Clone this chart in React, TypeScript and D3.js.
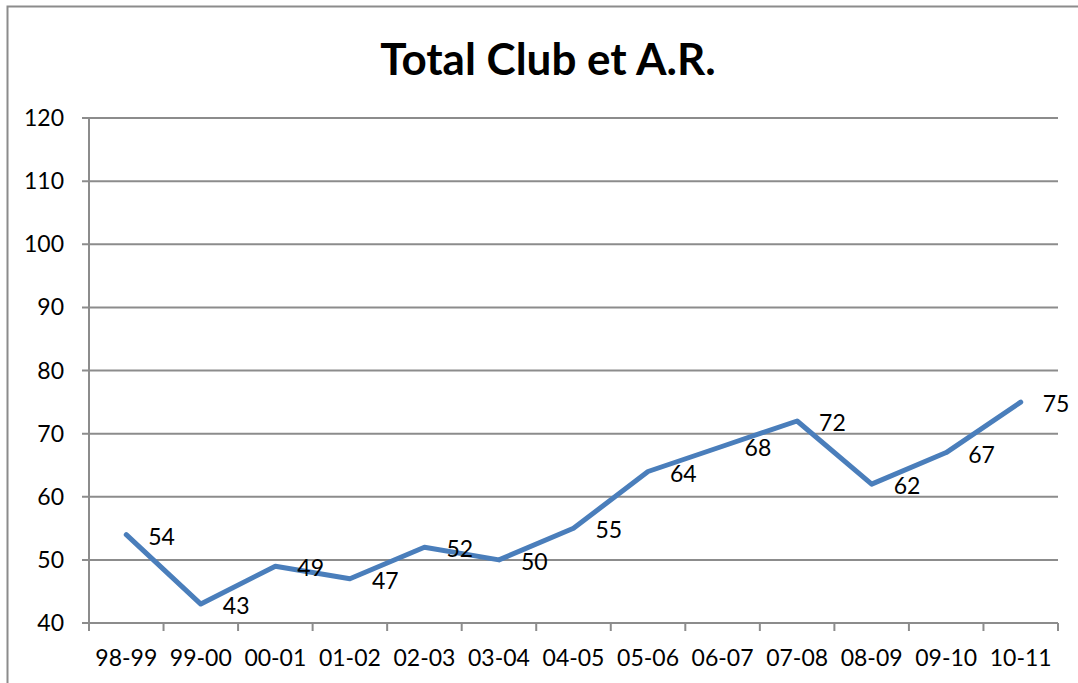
import { useEffect, useRef } from "react";
import * as d3 from "d3";

const SEASONS = ["98-99", "99-00", "00-01", "01-02", "02-03", "03-04", "04-05", "05-06", "06-07", "07-08", "08-09", "09-10", "10-11"];
const TOTALS = [54, 43, 49, 47, 52, 50, 55, 64, 68, 72, 62, 67, 75];
const Y_TICKS = [40, 50, 60, 70, 80, 90, 100, 110, 120];

const WIDTH = 1078;
const HEIGHT = 683;
const FONT = "Lato, 'Open Sans', sans-serif";

export default function App() {
  const svgRef = useRef<SVGSVGElement>(null);

  useEffect(() => {
    const svgEl = svgRef.current;
    if (!svgEl) return;
    const svg = d3.select(svgEl);
    svg.selectAll("*").remove();

    const left = 89;
    const right = 1058;
    const top = 118;
    const bottom = 623;

    const x = d3.scaleBand<string>().domain(SEASONS).range([left, right]);
    const y = d3.scaleLinear().domain([40, 120]).range([bottom, top]);

    // chart frame
    svg
      .append("rect")
      .attr("x", 7.5)
      .attr("y", 6.5)
      .attr("width", WIDTH + 20)
      .attr("height", HEIGHT + 20)
      .attr("fill", "white")
      .attr("stroke", "#8c8c8c")
      .attr("stroke-width", 2);

    svg
      .append("text")
      .attr("x", 548)
      .attr("y", 75)
      .attr("text-anchor", "middle")
      .attr("font-family", FONT)
      .attr("font-weight", 700)
      .attr("font-size", 44)
      .text("Total Club et A.R.");

    // gridlines + y ticks
    svg
      .append("g")
      .selectAll("line")
      .data(Y_TICKS)
      .join("line")
      .attr("x1", left - 7)
      .attr("x2", right)
      .attr("y1", (d) => y(d))
      .attr("y2", (d) => y(d))
      .attr("stroke", "#8c8c8c")
      .attr("stroke-width", 2);

    svg
      .append("g")
      .selectAll("text")
      .data(Y_TICKS)
      .join("text")
      .attr("x", 64)
      .attr("y", (d) => y(d))
      .attr("dy", "0.35em")
      .attr("text-anchor", "end")
      .attr("font-family", FONT)
      .attr("font-size", 23)
      .text((d) => d);

    // y axis line
    svg
      .append("line")
      .attr("x1", left)
      .attr("x2", left)
      .attr("y1", top)
      .attr("y2", bottom + 8)
      .attr("stroke", "#8c8c8c")
      .attr("stroke-width", 2);

    // x ticks at category boundaries
    const bounds = SEASONS.map((s) => x(s) as number).concat([right]);
    svg
      .append("g")
      .selectAll("line")
      .data(bounds.slice(1))
      .join("line")
      .attr("x1", (d) => d)
      .attr("x2", (d) => d)
      .attr("y1", bottom)
      .attr("y2", bottom + 8)
      .attr("stroke", "#8c8c8c")
      .attr("stroke-width", 2);

    svg
      .append("g")
      .selectAll("text")
      .data(SEASONS)
      .join("text")
      .attr("x", (d) => (x(d) as number) + x.bandwidth() / 2)
      .attr("y", 666)
      .attr("text-anchor", "middle")
      .attr("font-family", FONT)
      .attr("font-size", 23)
      .text((d) => d);

    const pts = SEASONS.map((s, i) => ({ s, v: TOTALS[i] }));
    const line = d3
      .line<{ s: string; v: number }>()
      .x((d) => (x(d.s) as number) + x.bandwidth() / 2)
      .y((d) => y(d.v));

    svg
      .append("path")
      .datum(pts)
      .attr("d", line)
      .attr("fill", "none")
      .attr("stroke", "#4a7ebb")
      .attr("stroke-width", 5)
      .attr("stroke-linejoin", "round")
      .attr("stroke-linecap", "round");

    svg
      .append("g")
      .selectAll("text")
      .data(pts)
      .join("text")
      .attr("x", (d) => (x(d.s) as number) + x.bandwidth() / 2 + 22)
      .attr("y", (d) => y(d.v) + 2)
      .attr("dy", "0.35em")
      .attr("font-family", FONT)
      .attr("font-size", 23)
      .text((d) => d.v);
  }, []);

  return (
    <svg
      ref={svgRef}
      width={WIDTH}
      height={HEIGHT}
      style={{ position: "absolute", left: 0, top: 0, display: "block", background: "white" }}
    />
  );
}
